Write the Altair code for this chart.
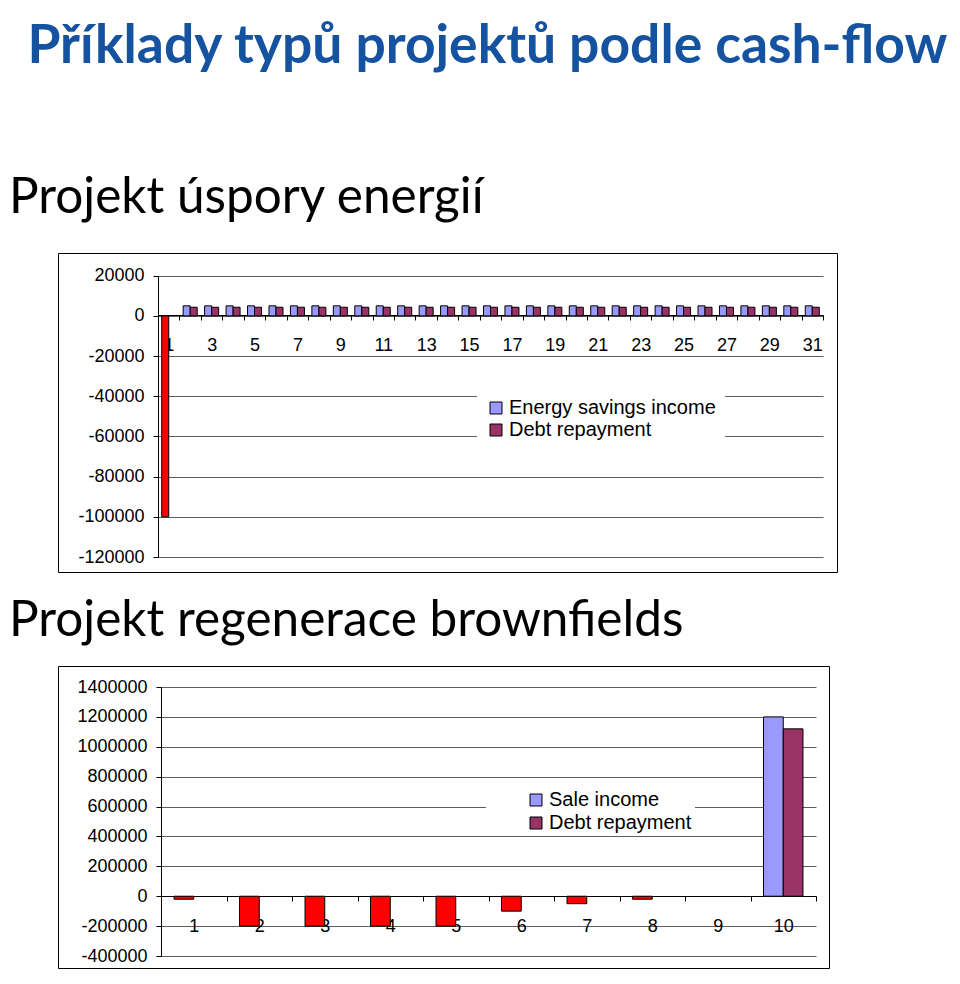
import altair as alt
import pandas as pd

# ---------------- data ----------------
MAIN_TITLE = "Příklady typů projektů podle cash-flow"
SUB1 = "Projekt úspory energií"
SUB2 = "Projekt regenerace brownfields"

# chart 1: energy savings project (years 1..31)
years1 = list(range(1, 32))
energy_savings_income = [-100000,
                         5000, 5000, 5000, 5000, 5000, 5000, 5000, 5000, 5000, 5000,
                         5000, 5000, 5000, 5000, 5000, 5000, 5000, 5000, 5000, 5000,
                         5000, 5000, 5000, 5000, 5000, 5000, 5000, 5000, 5000, 5000]
debt_repayment1 = [0,
                   4300, 4300, 4300, 4300, 4300, 4300, 4300, 4300, 4300, 4300,
                   4300, 4300, 4300, 4300, 4300, 4300, 4300, 4300, 4300, 4300,
                   4300, 4300, 4300, 4300, 4300, 4300, 4300, 4300, 4300, 4300]
series1 = ["Energy savings income", "Debt repayment"]
y1_ticks = [20000, 0, -20000, -40000, -60000, -80000, -100000, -120000]

# chart 2: brownfield regeneration project (years 1..10)
years2 = list(range(1, 11))
sale_income = [-20000, -200000, -200000, -200000, -200000, -100000, -50000, -20000, 0, 1200000]
debt_repayment2 = [0, 0, 0, 0, 0, 0, 0, 0, 0, 1120000]
series2 = ["Sale income", "Debt repayment"]
y2_ticks = [1400000, 1200000, 1000000, 800000, 600000, 400000, 200000, 0, -200000, -400000]

BLUE = "#9999FF"
MAROON = "#993366"
RED = "#FF0000"
FONT = "Liberation Sans"

def long_df(years, s_a, vals_a, s_b, vals_b):
    rows = []
    for y, a, b in zip(years, vals_a, vals_b):
        rows.append({"year": y, "series": s_a, "value": a})
        rows.append({"year": y, "series": s_b, "value": b})
    return pd.DataFrame(rows)

df1 = long_df(years1, series1[0], energy_savings_income, series1[1], debt_repayment1)
df2 = long_df(years2, series2[0], sale_income, series2[1], debt_repayment2)


def make_chart(df, years, series, width, height, xrange, yrange, ydomain, yticks,
               yaxis_offset, xaxis_offset, label_expr, label_pad, pad_outer,
               legend_x, legend_y, legend_pad, symbol_offset, row_pad, title_text, title_offset):
    return alt.Chart(df).transform_filter("datum.value != 0").mark_bar(
        stroke="black", strokeWidth=1
    ).encode(
        x=alt.X("year:O", scale=alt.Scale(domain=years, range=xrange, paddingInner=0, paddingOuter=0),
                axis=alt.Axis(title=None, orient="bottom", offset=xaxis_offset,
                              domainColor="black", domainWidth=1,
                              tickColor="black", tickSize=5, tickWidth=1, tickBand="extent",
                              labelAngle=0, labelFont=FONT, labelFontSize=18, labelColor="black",
                              labelPadding=label_pad, labelExpr=label_expr,
                              labelOverlap=False, labelFlush=False, grid=False)),
        xOffset=alt.XOffset("series:N", sort=series,
                            scale=alt.Scale(domain=series, paddingInner=0, paddingOuter=pad_outer)),
        y=alt.Y("value:Q", scale=alt.Scale(domain=ydomain, range=yrange, nice=False, zero=False),
                axis=alt.Axis(title=None, values=yticks, offset=yaxis_offset,
                              domainColor="black", domainWidth=1,
                              tickColor="black", tickSize=5, tickWidth=1,
                              labelFont=FONT, labelFontSize=18, labelColor="black",
                              labelPadding=9, labelExpr="toString(datum.value)",
                              labelOverlap=False,
                              grid=True, gridColor="#5e5e5e", gridWidth=1)),
        color=alt.condition(
            alt.datum.value < 0,
            alt.value(RED),
            alt.Color("series:N", sort=series,
                      scale=alt.Scale(domain=series, range=[BLUE, MAROON]),
                      legend=alt.Legend(title=None, orient="none", legendX=legend_x, legendY=legend_y,
                                        fillColor="white", padding=legend_pad,
                                        labelFont=FONT, labelFontSize=20, labelColor="black",
                                        labelLimit=400,
                                        symbolType="square", symbolSize=144,
                                        symbolStrokeColor="black", symbolStrokeWidth=1,
                                        labelOffset=3, rowPadding=row_pad, symbolOffset=symbol_offset)),
        ),
    ).properties(
        width=width, height=height,
        title=alt.TitleParams(title_text, anchor="start", dx=-49, font="Lato", fontSize=49.5,
                              fontWeight="normal", color="black", offset=title_offset),
    )


chart1 = make_chart(df1, years1, series1, 779, 319, [100, 765], [304, 22.7], [-120000, 20000], y1_ticks,
                    -100, -257, "datum.value % 2 == 1 ? datum.label : ''", 16, 0.53,
                    419, 136, 9, 0, 2, SUB1, 30)
chart2 = make_chart(df2, years2, series2, 771, 302, [103, 758], [290, 21], [-400000, 1400000], y2_ticks,
                    -103, -72, "datum.label", 16, 0.66,
                    428, 121, 3, 37, 3, SUB2, 20)

chart = alt.vconcat(chart1, chart2, spacing=22).resolve_scale(
    x="independent", y="independent", color="independent", xOffset="independent"
).resolve_legend(color="independent").properties(
    title=alt.TitleParams(MAIN_TITLE, anchor="start", dx=19, font="Lato", fontSize=53.4,
                          fontWeight="bold", color="#1553A1", offset=98),
    padding={"left": 0, "top": 11, "right": 0, "bottom": 0},
    background="white",
).configure_view(stroke="black", strokeWidth=1, fill="white")

chart.save("out.html", embed_options={"renderer": "svg", "actions": False})
